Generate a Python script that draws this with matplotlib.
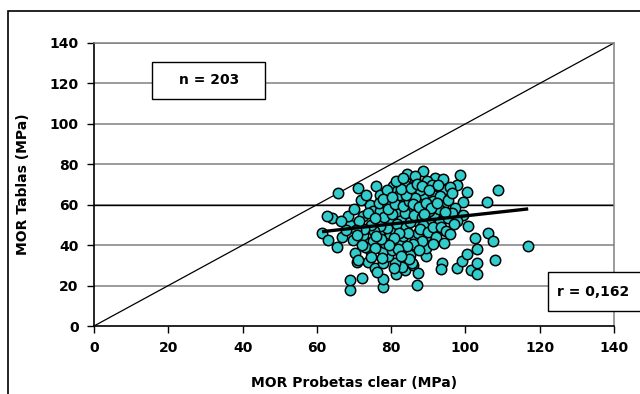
import matplotlib
matplotlib.use("Agg")
import matplotlib.pyplot as plt
from matplotlib.patches import Rectangle
import numpy as np

# MOR of clear specimens (x) vs MOR of boards (y), MPa
mor_clear = [
    # lower part of the cloud
    69, 69, 72.1, 77.9, 77.9, 81.2, 83.7, 86, 87.3, 86.9,
    85.5, 83, 70.7, 73.8, 75.7, 77.9, 81, 79.2, 77.9, 80.1,
    83.3, 85.1, 74.3, 70.3, 65.5, 89.4, 89.4, 93.8, 93.3, 97.6,
    99, 100.3, 101.4, 103, 103, 103, 108, 116.9, 77.5, 71,
    # middle band
    61.3, 63.1, 66.7, 69.8, 73.4, 75.2, 72.5, 76.6, 79.7, 82.4,
    83.3, 86.4, 89.5, 87.3, 89.5, 92.7, 93.2, 86.9, 95.4, 100.8,
    102.6, 106.2, 107.5, 69, 68.5, 64, 62.7, 72.5, 76, 77,
    79.7, 82.8, 78.4, 73, 75.7,
    # upper band
    65.8, 71.2, 75.9, 80.6, 81.5, 77, 84.2, 86.4, 83.7, 88.7,
    86.4, 91.8, 93.9, 94, 97.6, 98.5, 100.3, 99.4, 94, 99.4,
    105.7, 108.8, 88.7, 91.4, 89.1, 91.4, 74.3, 75, 77, 76.6,
    78.8, 82.4, 81.5, 85.1, 86.4, 87, 87.2, 79, 82, 87.8,
    89.7, 91, 95.8,
    # dense core
    80.5, 81.7, 83.9, 85.2, 84.6, 82.1, 80.9, 78.8, 76.9, 75.3,
    74.6, 78.1, 80.3, 83.6, 86.1, 88.2, 90.3, 91.6, 92.8, 90.1,
    88.6, 87.7, 89.9, 91.2, 93.5, 94.7, 92.1, 88.3, 85.8, 84.4,
    81.9, 79.5, 77.2, 75.8, 72.8, 71.4, 70.6, 73.9, 75.7, 79.2,
    81.1, 83.2, 84.7, 86.3, 84.1, 82.7, 85.3, 86.9, 88.4, 90.2,
    92.6, 93.1, 95.2, 96.4, 97.1, 96.3, 97.6, 96.8, 95.9, 94.2,
    91.3, 87.6, 84.9, 82.6, 80.8, 76.3, 74.6, 72.2, 70.9, 67.8,
    66.4, 70.1, 71.9, 73.2, 77.8, 80.2, 81.3, 83.1, 85.9, 87.6,
    89.3, 90.8, 92.4, 94.6, 88.9,
]
mor_boards = [
    18, 22.8, 23.6, 19.2, 23.1, 25.8, 27.8, 30.3, 26.2, 20.4,
    31.2, 29, 31.9, 31.9, 28.6, 31.1, 31.1, 34.4, 36.9, 37.7,
    38.5, 35.3, 37.7, 36.2, 39.2, 34.4, 38.7, 31.4, 28.3, 28.7,
    32, 35.7, 27.5, 25.8, 31, 38, 32.8, 39.7, 33.8, 32.8,
    46, 42.5, 44, 42.7, 41, 41.9, 45.2, 46, 45.2, 41,
    44.3, 43.5, 44.3, 46, 49.3, 46.8, 51.8, 51.8, 53.4, 49.3,
    43.5, 46, 42, 50, 54.3, 53.5, 54.3, 54.3, 51, 51.8,
    51, 53.5, 41.2, 39.2, 38.7,
    65.9, 68.4, 69.2, 69.2, 66.7, 65, 75, 72.5, 70, 76.6,
    74.1, 73.3, 72.8, 67.5, 70, 74.5, 66.2, 61.2, 59.4, 55.1,
    61.2, 67.2, 64.3, 65, 58.4, 61.8, 60, 56.8, 56.8, 60.9,
    60.9, 62.6, 56.8, 57.6, 65.9, 56.6, 61, 67.5, 65, 67.5,
    71.5, 70, 69,
    48.2, 50.6, 48.9, 51.3, 46.2, 45.9, 43.5, 48.7, 49.4, 47.1,
    50.2, 53.8, 55.4, 55.9, 54.7, 53.9, 52.7, 55.6, 57.9, 56.9,
    49.9, 48.1, 46.5, 48.8, 49.1, 47.2, 43.9, 42.1, 40.7, 39.6,
    38.2, 40.3, 43.1, 44.6, 48.1, 51.8, 47.3, 55.8, 53.3, 58.1,
    60.2, 59.3, 61.6, 63.2, 64.8, 67.9, 68.3, 70.2, 69.1, 67.1,
    69.6, 64.2, 62.3, 65.6, 58.3, 55.7, 52.1, 50.3, 45.4, 41.2,
    40.6, 37.4, 33.2, 34.6, 28.8, 26.9, 33.9, 40.1, 44.9, 47.6,
    51.9, 57.8, 62.4, 64.9, 62.8, 63.7, 71.8, 73.1, 60.4, 58.9,
    60.7, 58.4, 60.9, 56.4, 55.4,
]

# linear trend of boards on clear specimens
trend_slope = 0.203
trend_intercept = 34.2
trend_x_range = [61.4, 116.9]

axis_ticks = [0, 20, 40, 60, 80, 100, 120, 140]
n_label = "n = 203"
r_label = "r = 0,162"

plt.rcParams["font.family"] = ["DejaVu Sans"]

fig = plt.figure(figsize=(6.4, 3.94), dpi=100)
ax = fig.add_axes([94 / 640, 1 - 326 / 394, 520 / 640, 283 / 394])

# outer frame of the chart
fig.patches.append(Rectangle((8 / 640, -0.2), 1.2, 1.2 - 11 / 394,
                             transform=fig.transFigure, fill=False,
                             edgecolor="black", linewidth=1.2))

ax.set_xlim(0, 140)
ax.set_ylim(0, 140)
ax.set_xticks(axis_ticks)
ax.set_yticks(axis_ticks)

# horizontal grid
for t in axis_ticks[1:]:
    ax.axhline(t, color="#808080", linewidth=1.1, zorder=1)
ax.axhline(60, color="black", linewidth=1.0, zorder=1.1)

# 1:1 reference line
ax.plot([0, 140], [0, 140], color="black", linewidth=0.9, zorder=2)

ax.scatter(mor_clear, mor_boards, s=56, facecolor="#33CCCC",
           edgecolor="black", linewidth=1.1, zorder=3)

tx = np.array(trend_x_range)
ax.plot(tx, trend_slope * tx + trend_intercept, color="black",
        linewidth=2.4, zorder=4, solid_capstyle="butt")

for side in ["left", "bottom"]:
    ax.spines[side].set_color("black")
    ax.spines[side].set_linewidth(1.2)
for side in ["top", "right"]:
    ax.spines[side].set_color("#808080")
    ax.spines[side].set_linewidth(1.1)

ax.tick_params(axis="both", direction="out", length=5, width=1,
               labelsize=10, pad=6)
for lbl in ax.get_xticklabels() + ax.get_yticklabels():
    lbl.set_fontweight("bold")

ax.set_xlabel("MOR Probetas clear (MPa)", fontsize=10, fontweight="bold",
              labelpad=15)
ax.set_ylabel("MOR Tablas (MPa)", fontsize=10, fontweight="bold",
              labelpad=14)

# sample size box
ax.add_patch(Rectangle((15.6, 112.2), 30.5, 18.6, facecolor="white",
                       edgecolor="black", linewidth=1.0, zorder=5))
ax.text(30.9, 121.5, n_label, ha="center", va="center", fontsize=10,
        fontweight="bold", zorder=6)

# correlation box
ax.add_patch(Rectangle((122.2, 7.4), 40, 19.4, facecolor="white",
                       edgecolor="black", linewidth=1.0, zorder=5,
                       clip_on=False))
ax.text(124.6, 16.9, r_label, ha="left", va="center", fontsize=10,
        fontweight="bold", zorder=6, clip_on=False)

fig.savefig("out.png", dpi=100)
